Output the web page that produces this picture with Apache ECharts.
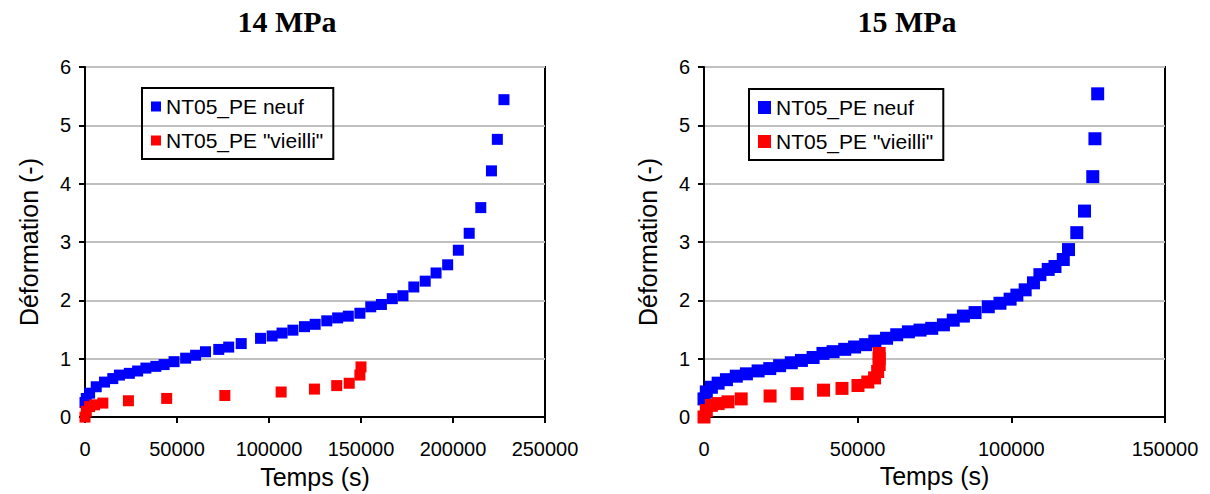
<!DOCTYPE html>
<html>
<head>
<meta charset="utf-8">
<script src="https://cdn.jsdelivr.net/npm/echarts@6/dist/echarts.min.js"></script>
<style>
html,body{margin:0;padding:0;background:#fff;}
#chart{width:1210px;height:494px;}
</style>
</head>
<body>
<div id="chart"></div>
<script>
// ---- data (Temps (s), Déformation (-)) ----
const titles = ['14 MPa', '15 MPa'];
const seriesNames = ['NT05_PE neuf', 'NT05_PE "vieilli"'];
const xMax = [250000, 150000];

const neuf14 = [[0,0.25],[700,0.32],[2500,0.41],[6100,0.52],[10600,0.60],[15100,0.66],[18700,0.72],[24100,0.75],[28600,0.79],[33100,0.84],[38500,0.87],[43000,0.90],[48400,0.95],[54700,1.01],[60100,1.06],[65500,1.12],[72700,1.16],[78100,1.20],[84900,1.26],[95400,1.35],[101700,1.39],[107100,1.44],[113000,1.49],[119300,1.55],[125100,1.59],[131400,1.65],[137300,1.70],[143100,1.73],[149400,1.78],[155300,1.89],[161100,1.93],[167000,2.03],[172800,2.08],[178700,2.23],[184900,2.33],[190800,2.47],[197100,2.61],[202900,2.86],[208800,3.15],[215100,3.59],[220900,4.22],[224100,4.76],[227700,5.44]];
const vieilli14 = [[0,0.0],[700,0.10],[2500,0.18],[5200,0.21],[9700,0.24],[23600,0.28],[44400,0.32],[76000,0.37],[106600,0.43],[124700,0.48],[136800,0.54],[143600,0.58],[149400,0.72],[150000,0.86]];

const neuf15 = [[0,0.31],[750,0.43],[2400,0.51],[4600,0.58],[7300,0.64],[10500,0.70],[13800,0.74],[17600,0.79],[21400,0.83],[24600,0.88],[28400,0.93],[31700,0.97],[35500,1.02],[38700,1.09],[42000,1.12],[45800,1.16],[49000,1.20],[52600,1.24],[55600,1.30],[59400,1.35],[62700,1.41],[66500,1.46],[70300,1.49],[74100,1.52],[77900,1.58],[81100,1.66],[84400,1.73],[88200,1.79],[92500,1.89],[96300,1.95],[99600,2.02],[101800,2.09],[104500,2.18],[107200,2.30],[109300,2.44],[112000,2.53],[114200,2.58],[116900,2.70],[118600,2.87],[121300,3.16],[123800,3.53],[126500,4.12],[127200,4.77],[128100,5.54]];
const vieilli15 = [[0,0.0],[750,0.11],[2400,0.20],[4600,0.23],[7800,0.26],[12100,0.31],[21500,0.36],[30300,0.40],[38900,0.46],[44900,0.49],[50100,0.54],[53300,0.60],[55500,0.67],[56500,0.78],[57000,0.90],[57000,1.00],[57000,1.09]];

const BLUE = '#0000ff', RED = '#ff0000';
const SANS = 'Liberation Sans, Arial, sans-serif';
const SERIF = 'Liberation Serif, Times New Roman, serif';

const grids = [
  {left: 85, top: 67, width: 460, height: 352},
  {left: 704, top: 67, width: 461, height: 350}
];

function xAxis(i) {
  return {
    type: 'value', gridIndex: i, min: 0, max: xMax[i], interval: 50000,
    name: 'Temps (s)', nameLocation: 'middle', nameGap: 44,
    nameTextStyle: {fontFamily: SANS, fontSize: 25, color: '#000'},
    axisLine: {show: true, onZero: false, lineStyle: {color: '#000', width: 2}},
    axisTick: {show: true, inside: false, length: 6, lineStyle: {color: '#000', width: 2}},
    axisLabel: {fontFamily: SANS, fontSize: 20, color: '#000', margin: 22, formatter: v => String(v)},
    splitLine: {show: false}
  };
}
function yAxis(i) {
  return {
    type: 'value', gridIndex: i, min: 0, max: 6, interval: 1,
    name: 'Déformation (-)', nameLocation: 'middle', nameGap: 44,
    nameTextStyle: {fontFamily: SANS, fontSize: 25, color: '#000'},
    axisLine: {show: true, lineStyle: {color: '#000', width: 2}},
    axisTick: {show: true, inside: false, length: 6, lineStyle: {color: '#000', width: 2}},
    axisLabel: {fontFamily: SANS, fontSize: 20, color: '#000', margin: 14},
    splitLine: {show: true, lineStyle: {color: '#c0c0c0', width: 2}}
  };
}
function sc(name, data, i, color, size) {
  return {
    type: 'scatter', name: name, xAxisIndex: i, yAxisIndex: i, data: data,
    symbol: 'rect', symbolSize: size, itemStyle: {color: color, opacity: 1}, silent: true
  };
}
function legend(left, top, icon) {
  return {
    orient: 'vertical', left: left, top: top, data: seriesNames,
    icon: 'rect', itemWidth: icon, itemHeight: icon, itemGap: 13,
    padding: [8, 10, 8, 9], borderColor: '#000', borderWidth: 2,
    textStyle: {fontFamily: SANS, fontSize: 21, color: '#000'},
    selectedMode: false
  };
}

const chart = echarts.init(document.getElementById('chart'), null, {renderer: 'svg'});
chart.setOption({
  backgroundColor: '#fff',
  animation: false,
  grid: grids.map(g => Object.assign({show: true, borderColor: '#000', borderWidth: 2, backgroundColor: 'transparent'}, g)),
  xAxis: [xAxis(0), xAxis(1)],
  yAxis: [yAxis(0), yAxis(1)],
  legend: [legend(142, 88, 10), legend(749, 89, 13)],
  graphic: [
    {type: 'text', x: 287, y: 6, style: {text: titles[0], fontFamily: SERIF, fontWeight: 'bold', fontSize: 30, fill: '#000', textAlign: 'center'}},
    {type: 'text', x: 907, y: 6, style: {text: titles[1], fontFamily: SERIF, fontWeight: 'bold', fontSize: 30, fill: '#000', textAlign: 'center'}}
  ],
  series: [
    sc(seriesNames[0], neuf14, 0, BLUE, 11),
    sc(seriesNames[1], vieilli14, 0, RED, 11),
    sc(seriesNames[0], neuf15, 1, BLUE, 13),
    sc(seriesNames[1], vieilli15, 1, RED, 13)
  ]
});
</script>
</body>
</html>
